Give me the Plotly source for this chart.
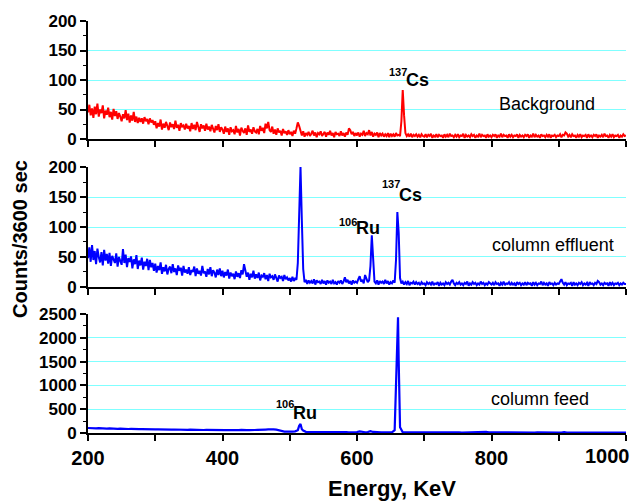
import plotly.graph_objects as go

# ---------------- data ----------------
# fine energy grid (keV), 2 keV channels from 200 to 1000
energy_fine = list(range(200, 1001, 2))
# coarse energy grid (keV), 4 keV channels from 200 to 1000
energy_coarse = list(range(200, 1001, 4))

background = [
    # 200-298
    45, 58, 40, 52, 36, 55, 42, 60, 38, 50, 44, 57, 35, 48, 41, 53, 37, 46, 33, 51, 39, 47, 34, 44, 38,
    30, 42, 35, 49, 32, 43, 28, 40, 31, 46, 29, 38, 27, 36, 29, 35, 26, 37, 30, 34, 25, 35, 28, 32, 24,
    # 300-398
    30, 18, 27, 21, 33, 16, 26, 19, 29, 22, 15, 28, 20, 25, 17, 31, 19, 24, 14, 27, 21, 23, 16, 26, 18,
    22, 13, 27, 17, 24, 15, 29, 20, 12, 25, 18, 23, 14, 26, 16, 21, 13, 24, 19, 11, 22, 15, 25, 12, 20,
    # 400-498
    16, 9, 21, 12, 18, 7, 20, 13, 15, 8, 22, 11, 17, 6, 19, 14, 10, 18, 7, 23, 12, 16, 9, 20, 13,
    11, 17, 8, 22, 14, 19, 10, 26, 18, 29, 15, 12, 21, 9, 16, 7, 18, 11, 14, 6, 17, 10, 13, 7, 15,
    # 500-598
    8, 12, 5, 14, 9, 18, 28, 22, 11, 6, 13, 4, 10, 7, 12, 5, 9, 14, 6, 11, 3, 10, 8, 13, 5,
    9, 12, 4, 11, 7, 14, 6, 10, 3, 12, 8, 9, 5, 13, 6, 10, 4, 11, 7, 18, 15, 8, 12, 5, 10,
    # 600-698
    6, 11, 4, 9, 7, 14, 5, 10, 8, 15, 6, 12, 4, 9, 7, 11, 3, 10, 6, 9, 4, 8, 5, 10, 3,
    9, 5, 8, 4, 10, 6, 7, 5, 30, 83, 40, 10, 5, 8, 4, 9, 3, 7, 5, 8, 4, 7, 3, 8, 5,
    # 700-798
    4, 8, 3, 7, 5, 9, 2, 6, 4, 8, 3, 7, 5, 6, 2, 8, 4, 7, 3, 9, 5, 6, 3, 7, 4,
    8, 3, 6, 5, 9, 2, 7, 4, 6, 3, 8, 5, 7, 2, 6, 4, 9, 3, 7, 5, 6, 2, 8, 4, 6,
    # 800-898
    3, 7, 5, 8, 2, 6, 4, 9, 3, 7, 5, 6, 2, 8, 4, 7, 3, 6, 5, 8, 2, 7, 4, 6, 3,
    7, 5, 8, 2, 6, 4, 9, 3, 7, 4, 6, 2, 8, 5, 6, 3, 7, 4, 8, 2, 6, 5, 7, 3, 6,
    # 900-998
    5, 8, 3, 7, 6, 11, 9, 4, 7, 3, 8, 5, 6, 2, 7, 4, 8, 3, 6, 5, 7, 2, 8, 4, 6,
    3, 7, 5, 8, 2, 6, 4, 7, 3, 9, 5, 6, 2, 7, 4, 8, 3, 6, 5, 7, 2, 6, 4, 8, 5,
    # 1000
    6,
]

effluent = [
    # 200-298
    48, 66, 42, 70, 45, 60, 38, 64, 50, 41, 58, 36, 62, 44, 55, 39, 57, 35, 52, 47, 40, 56, 34, 50, 43,
    37, 63, 40, 54, 33, 48, 42, 51, 31, 46, 38, 53, 30, 44, 36, 49, 29, 42, 35, 47, 28, 45, 33, 40, 27,
    # 300-398
    39, 24, 35, 28, 41, 22, 33, 26, 37, 21, 30, 34, 23, 38, 25, 31, 20, 36, 27, 32, 19, 35, 24, 29, 22,
    33, 20, 28, 25, 34, 18, 31, 22, 27, 19, 35, 23, 26, 17, 30, 21, 33, 18, 28, 24, 16, 29, 20, 31, 18,
    # 400-498
    27, 16, 25, 19, 29, 14, 24, 18, 22, 13, 26, 17, 23, 15, 28, 21, 38, 25, 17, 24, 12, 22, 16, 27, 14,
    21, 15, 24, 11, 19, 17, 23, 13, 20, 10, 22, 16, 18, 12, 21, 14, 9, 19, 15, 17, 10, 20, 13, 16, 11,
    # 500-598
    15, 9, 17, 10, 14, 12, 40, 120, 200, 110, 30, 8, 12, 5, 11, 7, 10, 6, 13, 4, 11, 8, 9, 5, 12,
    6, 10, 4, 11, 7, 9, 5, 12, 6, 8, 4, 10, 7, 11, 5, 9, 16, 8, 12, 6, 10, 4, 11, 7, 9,
    # 600-698
    7, 13, 18, 9, 12, 6, 20, 14, 8, 11, 35, 86, 40, 9, 6, 11, 4, 10, 7, 9, 5, 12, 6, 10, 4,
    8, 6, 11, 7, 45, 125, 90, 15, 6, 9, 4, 8, 5, 10, 3, 7, 6, 9, 4, 8, 5, 7, 3, 8, 5,
    # 700-798
    6, 3, 8, 5, 7, 4, 9, 3, 6, 5, 8, 2, 7, 4, 6, 3, 8, 5, 7, 4, 9, 12, 6, 3, 7,
    5, 8, 4, 6, 3, 7, 5, 9, 2, 6, 4, 8, 5, 7, 3, 6, 4, 9, 5, 7, 3, 6, 4, 8, 5,
    # 800-898
    4, 7, 3, 8, 5, 6, 2, 7, 4, 9, 3, 6, 5, 8, 3, 7, 4, 6, 2, 8, 5, 7, 3, 6, 4,
    8, 3, 7, 5, 6, 2, 8, 4, 7, 3, 6, 5, 9, 3, 7, 4, 6, 2, 8, 5, 6, 3, 7, 4, 6,
    # 900-998
    5, 9, 13, 7, 4, 8, 3, 6, 5, 7, 2, 8, 4, 6, 3, 7, 5, 8, 3, 6, 4, 7, 2, 8, 5,
    6, 3, 7, 5, 10, 8, 4, 6, 3, 7, 5, 6, 2, 8, 4, 7, 3, 6, 5, 7, 3, 6, 4, 7, 5,
    # 1000
    5,
]

feed = [
    105, 100, 110, 98, 102, 95, 100, 92, 96, 90, 94, 88, 91, 86, 89, 84, 87, 82, 85, 80, 83, 79, 81, 77, 80,
    76, 78, 74, 76, 72, 74, 70, 73, 69, 71, 68, 70, 66, 69, 65, 68, 64, 66, 63, 65, 62, 64, 61, 63, 60,
    62, 59, 61, 58, 60, 57, 62, 65, 70, 60, 62, 58, 63, 66, 64, 68, 72, 75, 80, 76, 70, 55, 40, 30, 28,
    25, 30, 35, 60, 190, 50, 25, 20, 18, 22, 17, 20, 16, 19, 15, 18, 17, 20, 16, 19, 15, 17, 16, 18, 15,
    18, 35, 18, 16, 20, 40, 22, 15, 17, 14, 16, 13, 15, 14, 60, 2400, 120, 15, 12, 14, 11, 13, 10, 12, 11,
    12, 10, 13, 11, 12, 10, 11, 12, 10, 11, 13, 10, 12, 11, 10, 12, 11, 10, 12, 11, 10, 12, 13, 25, 12,
    11, 10, 12, 10, 11, 9, 10, 11, 10, 9, 11, 10, 9, 11, 10, 9, 10, 11, 9, 10, 9, 11, 10, 9, 10,
    9, 10, 20, 9, 10, 8, 9, 10, 8, 9, 10, 8, 9, 8, 10, 9, 8, 9, 8, 10, 9, 8, 9, 8, 9,
    8,
]
feed_peak_e = [514, 518, 658, 661, 662]
feed_peak_c = [150, 80, 1200, 2430, 1500]

assert len(background) == len(energy_fine), len(background)
assert len(effluent) == len(energy_fine), len(effluent)
assert len(feed) == len(energy_coarse), len(feed)

panel_labels = ["Background", "column effluent", "column feed"]
x_ticks = [200, 300, 400, 500, 600, 700, 800, 900, 1000]
x_ticktext = ["200", "", "400", "", "600", "", "800", "", ""]

pts = sorted(list(zip(energy_coarse, feed)) + list(zip(feed_peak_e, feed_peak_c)))
feed_e = [p[0] for p in pts]
feed_c = [p[1] for p in pts]

FONT = "Liberation Sans, Arial, sans-serif"
GRID = "#80ffff"

fig = go.Figure()

series = [
    (energy_fine, background, "#ff0000", "x", "y", 2.0),
    (energy_fine, effluent, "#0000ff", "x2", "y2", 2.0),
    (feed_e, feed_c, "#0000ff", "x3", "y3", 2.2),
]
for ex, cy, col, xa, ya, lw in series:
    fig.add_trace(go.Scatter(x=ex, y=cy, mode="lines", xaxis=xa, yaxis=ya,
                             line=dict(color=col, width=lw), showlegend=False))

domains = [[0.7136, 1.0], [0.3544, 0.6456], [0.0, 0.2888]]
yranges = [[0, 200], [0, 200], [0, 2500]]
ydticks = [50, 50, 500]

for i in range(3):
    xs = "xaxis" if i == 0 else f"xaxis{i+1}"
    ys = "yaxis" if i == 0 else f"yaxis{i+1}"
    xanchor = "y" if i == 0 else f"y{i+1}"
    yanchor = "x" if i == 0 else f"x{i+1}"
    fig.layout[xs] = dict(
        domain=[0, 1], anchor=xanchor, range=[200, 1000],
        showline=True, linecolor="black", linewidth=1.6, mirror=False,
        showgrid=False, zeroline=False,
        ticks="outside", ticklen=6, tickwidth=1.5, tickcolor="black",
        tickmode="array", tickvals=x_ticks,
        ticktext=x_ticktext if i == 2 else [""] * len(x_ticks),
        showticklabels=(i == 2),
        tickfont=dict(family=FONT, size=20, color="black", weight="bold"),
    )
    fig.layout[ys] = dict(
        domain=domains[i], anchor=yanchor, range=yranges[i],
        showline=True, linecolor="black", linewidth=1.6,
        showgrid=True, gridcolor=GRID, gridwidth=1.2, zeroline=False,
        ticks="outside", ticklen=6, tickwidth=1.5, tickcolor="black",
        dtick=ydticks[i], tick0=0,
        minor=dict(dtick=ydticks[i] / 2, ticks="outside", ticklen=3,
                   tickwidth=1.2, tickcolor="black", showgrid=False),
        tickfont=dict(family=FONT, size=17, color="black", weight="bold"),
    )

annotations = []


def iso(xref, yref, num, sym, xe, ysym, ysup):
    annotations.append(dict(xref=xref, yref=yref, x=xe, y=ysym, text=sym,
                            showarrow=False, xanchor="left", yanchor="middle",
                            xshift=-2, borderpad=0,
                            font=dict(family=FONT, size=18, color="black", weight="bold")))
    annotations.append(dict(xref=xref, yref=yref, x=xe, y=ysup, text=num,
                            showarrow=False, xanchor="right", yanchor="middle",
                            xshift=1, borderpad=0,
                            font=dict(family=FONT, size=11, color="black", weight="bold")))


iso("x", "y", "137", "Cs", 673.9, 100, 114)
iso("x2", "y2", "106", "Ru", 500.4, 213, 226)
iso("x2", "y2", "106", "Ru", 599.6, 98, 109)
iso("x2", "y2", "137", "Cs", 663.9, 154, 172)
iso("x3", "y3", "106", "Ru", 506.3, 420, 606)
iso("x3", "y3", "137", "Cs", 673.9, 2538, 2690)

label_pos = [("x", "y", 882, 59), ("x2", "y2", 890.7, 70), ("x3", "y3", 871.4, 720)]
for (xr, yr, xe, yv), txt in zip(label_pos, panel_labels):
    annotations.append(dict(xref=xr, yref=yr, x=xe, y=yv, text=txt, showarrow=False,
                            xanchor="center", yanchor="middle",
                            font=dict(family=FONT, size=18, color="black")))

# last x tick label, kept inside the page as in the original
annotations.append(dict(xref="paper", yref="paper", x=1.0112, y=-0.0565,
                        text="1000", showarrow=False, xanchor="right", yanchor="middle",
                        font=dict(family=FONT, size=20, color="black", weight="bold")))

annotations.append(dict(xref="paper", yref="paper", x=-0.1264, y=0.471,
                        text="Counts/3600 sec", textangle=-90, showarrow=False,
                        xanchor="center", yanchor="middle",
                        font=dict(family=FONT, size=20, color="black", weight="bold")))
annotations.append(dict(xref="paper", yref="paper", x=0.5645, y=-0.1335,
                        text="Energy, KeV", showarrow=False,
                        xanchor="center", yanchor="middle",
                        font=dict(family=FONT, size=22, color="black", weight="bold")))

fig.update_layout(
    width=633, height=501,
    margin=dict(l=88, r=7, t=21, b=68),
    paper_bgcolor="white", plot_bgcolor="white",
    annotations=annotations,
)

fig.write_html("out.html")
